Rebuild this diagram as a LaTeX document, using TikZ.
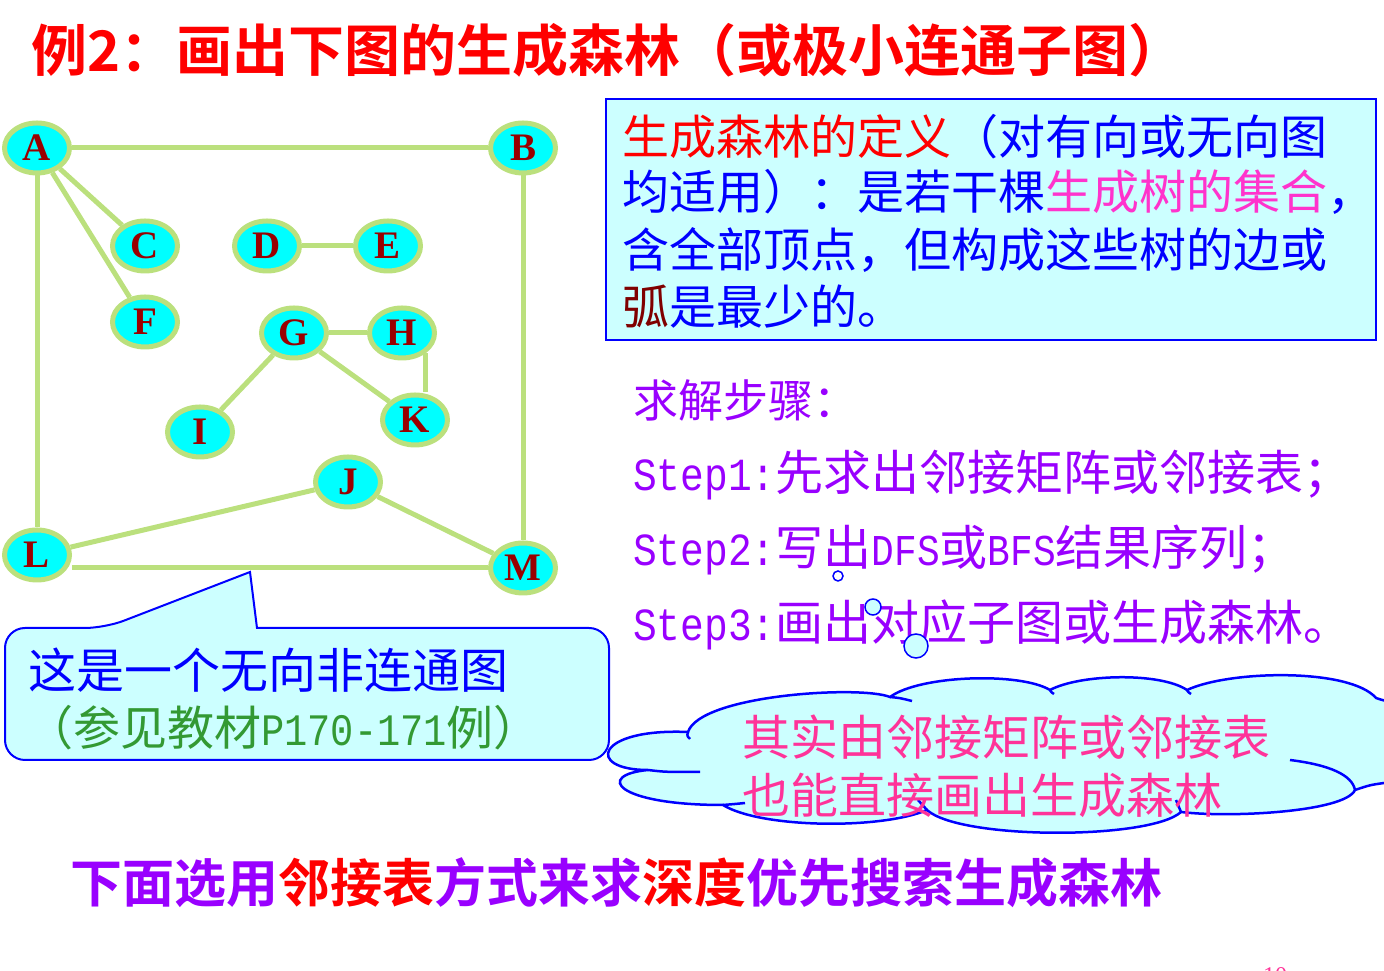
\documentclass[tikz,border=0pt]{standalone}
\usepackage{fontspec}
\setmainfont{Liberation Serif}
\newfontfamily\cjk{Noto Sans CJK SC}[BoldFont={Noto Sans CJK SC Bold}]
\newfontfamily\monof{Liberation Mono}[FakeStretch=0.86]
\usetikzlibrary{shapes.geometric,positioning}
\definecolor{ringgreen}{RGB}{187,224,125}
\definecolor{nodecyan}{RGB}{0,255,255}
\definecolor{vtxred}{RGB}{153,0,0}
\definecolor{paleblue}{RGB}{204,255,255}
\definecolor{hotpink}{RGB}{255,51,204}
\definecolor{rosepink}{RGB}{255,51,153}
\definecolor{stepviolet}{RGB}{153,0,255}
\definecolor{leafgreen}{RGB}{51,153,51}
\definecolor{arcred}{RGB}{128,0,0}
\begin{document}
\begin{tikzpicture}[x=1pt, y=1pt,
    vtx/.style = {draw=ringgreen, line width=5pt, ellipse, fill=nodecyan, minimum width=65pt, minimum height=50pt, inner sep=0pt, text=vtxred, font=\fontsize{39}{39}\selectfont\bfseries},
    link/.style = {draw=ringgreen, line width=5pt},
    txtline/.style = {anchor=west, inner sep=0pt},
    bluebox/.style = {draw=blue, line width=2pt, fill=paleblue},
    bubble/.style = {draw=blue, line width=1.5pt, circle, fill=paleblue, inner sep=0pt}]
\useasboundingbox (0,0) rectangle (1384,971);

% title
\node[txtline, text=red, font=\cjk\fontsize{56}{60}\selectfont\bfseries] (title) at (31,921) {例2：画出下图的生成森林（或极小连通子图）};

% the graph
\node[vtx] (A) at (37,823) {A};
\node[vtx] (B) at (523,823) {B};
\node[vtx] (C) at (145,725) {C};
\node[vtx] (D) at (267,725) {D};
\node[vtx] (E) at (388,725) {E};
\node[vtx] (F) at (145,649) {F};
\node[vtx] (G) at (294,638) {G};
\node[vtx] (H) at (402,638) {H};
\node[vtx] (I) at (200,539) {I};
\node[vtx] (K) at (415,551) {K};
\node[vtx] (J) at (348,489) {J};
\node[vtx] (L) at (37,416) {L};
\node[vtx] (M) at (523,403) {M};
\draw[link] (A) -- (B);
\draw[link] (A) -- (C);
\draw[link] (A) -- (F);
\draw[link] (A) -- (L);
\draw[link] (B) -- (M);
\draw[link] (D) -- (E);
\draw[link] (G) -- (H);
\draw[link] (G) -- (I);
\draw[link] (G) -- (K);
\draw[link] (H.-40) -- (H.-40 |- K.north);
\draw[link] (L) -- (J);
\draw[link] (J) -- (M);
\draw[link] (M.west) -- (M.west -| L.east);

% definition
\node[bluebox, minimum width=770pt, minimum height=241pt] (defbox) at (991,751.5) {};
\begin{scope}[every node/.style={txtline, font=\cjk\fontsize{47}{50}\selectfont}]
\node (def1) at (622,834) {{\color{red}生成森林的定义}{\color{blue}（对有向或无向图}};
\node (def2) at (622,779) {{\color{blue}均适用）：是若干棵}{\color{hotpink}生成树的集合}{\color{blue}，}};
\node (def3) at (622,721) {\color{blue}含全部顶点，但构成这些树的边或};
\node (def4) at (622,664) {{\color{arcred}弧}{\color{blue}是最少的。}};
\end{scope}

% steps
\begin{scope}[every node/.style={txtline, text=stepviolet, font=\cjk\fontsize{48}{50}\selectfont}]
\node (steps) at (633,571) {\fontsize{45}{50}\selectfont 求解步骤：};
\node (step1) at (633,496) {{\monof\fontsize{46}{50}\selectfont Step1:}先求出邻接矩阵或邻接表；};
\node (step2) at (633,421) {{\monof\fontsize{46}{50}\selectfont Step2:}写出{\monof\fontsize{44}{50}\selectfont DFS}或{\monof\fontsize{44}{50}\selectfont BFS}结果序列；};
\node (step3) at (633,346) {{\monof\fontsize{46}{50}\selectfont Step3:}画出对应子图或生成森林。};
\end{scope}

% callout
\draw[bluebox] (5,280) [rounded corners=20pt] |- (105,343) [sharp corners] -- (250,399) -- (257,343) [rounded corners=20pt] -| (609,280) |- (5,211) -- cycle;
\node[txtline, text=blue, font=\cjk\fontsize{48}{50}\selectfont] (note1) at (28,301) {这是一个无向非连通图};
\node[txtline, text=leafgreen, font=\cjk\fontsize{47}{50}\selectfont] (note2) at (26,243) {（参见教材{\monof\fontsize{45}{50}\selectfont P170-171}例）};

% cloud
\draw[bluebox, line width=2.5pt] (688,239)
  .. controls (700,276) and (860,286) .. (890,274)
  .. controls (920,296) and (1020,299) .. (1050,281)
  .. controls (1080,297) and (1160,299) .. (1187,281)
  .. controls (1230,301) and (1350,303) .. (1376,273)
  .. controls (1385,270) .. (1400,268) -- (1400,188) -- (1384,188)
  .. controls (1370,186) .. (1355,181)
  .. controls (1345,159) and (1230,153) .. (1181,159)
  .. controls (1150,131) and (960,131) .. (927,161)
  .. controls (880,141) and (760,143) .. (723,166)
  .. controls (615,166) and (595,196) .. (648,201)
  .. controls (585,201) and (595,243) .. (688,239) -- cycle;
\begin{scope}[draw=blue, line width=2.5pt]
\draw (648,201) .. controls (665,199) .. (700,199);
\draw (723,166) .. controls (735,167) .. (745,168);
\draw (890,274) .. controls (900,273) .. (912,270);
\draw (688,239) .. controls (687,235) .. (690,232);
\draw (1050,281) .. controls (1051,279) .. (1054,277);
\draw (1187,281) .. controls (1188,279) .. (1191,277);
\draw (1290,211) .. controls (1330,206) and (1352,196) .. (1355,181);
\draw (927,161) .. controls (922,166) .. (918,171);
\draw (1181,159) .. controls (1179,165) .. (1176,171);
\end{scope}
\node[bubble, draw=blue, fill=white, minimum size=10pt] (bub1) at (838,395) {};
\node[bubble, minimum size=16pt] (bub2) at (873,364) {};
\node[bubble, minimum size=24pt] (bub3) at (916,325) {};
\node[txtline, text=rosepink, font=\cjk\fontsize{48}{50}\selectfont] (cloud1) at (742,234) {其实由邻接矩阵或邻接表};
\node[txtline, text=rosepink, font=\cjk\fontsize{48}{50}\selectfont] (cloud2) at (742,176) {也能直接画出生成森林};

% bottom line
\node[txtline, text=stepviolet, font=\cjk\fontsize{52}{56}\selectfont\bfseries] (plan) at (70,88) {下面选用{\color{red}邻接表}方式来求{\color{red}深度}优先搜索生成森林};
\node[anchor=base, inner sep=0pt, text=rosepink, font=\fontsize{24}{24}\selectfont] (pgno) at (1275,-13) {10};
\end{tikzpicture}
\end{document}
